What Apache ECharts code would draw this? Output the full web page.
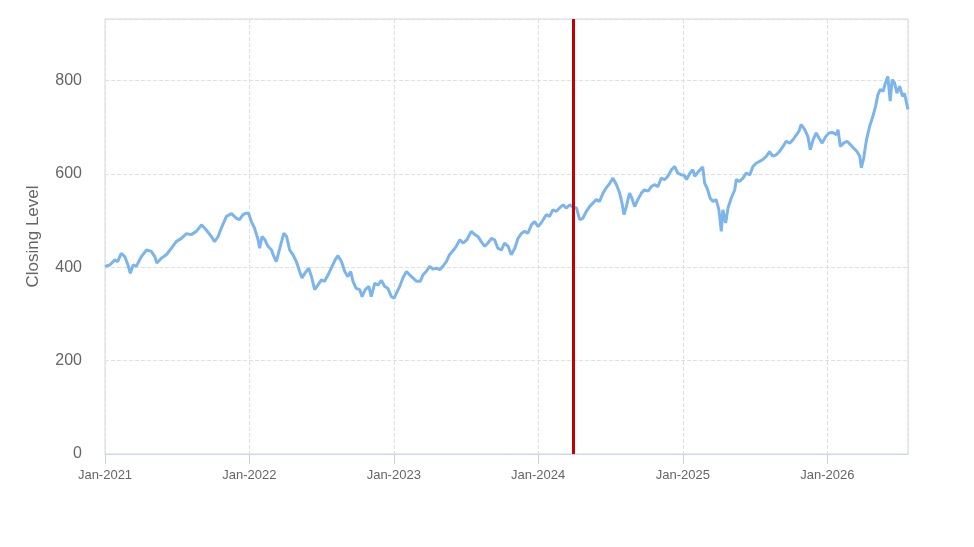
<!DOCTYPE html>
<html>
<head>
<meta charset="utf-8">
<title>Closing Level</title>
<script src="https://cdn.jsdelivr.net/npm/echarts@6/dist/echarts.min.js"></script>
<style>
  html, body { margin: 0; padding: 0; background: #fff; }
  #main { width: 974px; height: 547px; }
</style>
</head>
<body>
<div id="main"></div>
<script>
// closing level (~weekly samples)
var dates = [
  '2021-01-01','2021-01-13','2021-01-26','2021-02-02','2021-02-11','2021-02-20','2021-02-28','2021-03-06',
  '2021-03-13','2021-03-21','2021-04-03','2021-04-16','2021-04-28','2021-05-07','2021-05-12','2021-05-24',
  '2021-06-05','2021-06-18','2021-06-30','2021-07-13','2021-07-26','2021-08-07','2021-08-20','2021-09-02',
  '2021-09-14','2021-09-27','2021-10-05','2021-10-14','2021-10-22','2021-11-04','2021-11-17','2021-11-29',
  '2021-12-07','2021-12-16','2021-12-24','2021-12-30',
  '2022-01-06','2022-01-14','2022-01-23','2022-01-27','2022-02-02','2022-02-09','2022-02-17','2022-02-26',
  '2022-03-02','2022-03-10','2022-03-19','2022-03-29','2022-04-05','2022-04-13','2022-04-21','2022-04-30',
  '2022-05-08','2022-05-14','2022-05-21','2022-05-31','2022-06-07','2022-06-15','2022-06-23','2022-07-02',
  '2022-07-10','2022-07-19','2022-07-29','2022-08-06','2022-08-13','2022-08-22','2022-08-30','2022-09-07',
  '2022-09-14','2022-09-20','2022-09-28','2022-10-07','2022-10-13','2022-10-21','2022-10-30','2022-11-05',
  '2022-11-14','2022-11-22','2022-12-01','2022-12-09','2022-12-17','2022-12-26',
  '2023-01-02','2023-01-08','2023-01-16','2023-01-24','2023-02-02','2023-02-10','2023-02-19','2023-02-27',
  '2023-03-09','2023-03-16','2023-03-24','2023-04-02','2023-04-10','2023-04-19','2023-04-27','2023-05-05',
  '2023-05-14','2023-05-22','2023-06-01','2023-06-08','2023-06-17','2023-06-25','2023-07-05','2023-07-16',
  '2023-07-25','2023-08-02','2023-08-10','2023-08-19','2023-08-27','2023-09-05','2023-09-13','2023-09-21',
  '2023-09-30','2023-10-08','2023-10-17','2023-10-25','2023-11-03','2023-11-11','2023-11-20','2023-11-28',
  '2023-12-06','2023-12-15','2023-12-23',
  '2024-01-01','2024-01-11','2024-01-22','2024-01-30','2024-02-07','2024-02-16','2024-02-24','2024-03-04',
  '2024-03-12','2024-03-21','2024-03-29','2024-04-07','2024-04-15','2024-04-23','2024-05-02','2024-05-10',
  '2024-05-19','2024-05-27','2024-06-04','2024-06-13','2024-06-21','2024-06-30','2024-07-08','2024-07-17',
  '2024-07-25','2024-07-31','2024-08-05','2024-08-11','2024-08-19','2024-08-25','2024-09-01','2024-09-09',
  '2024-09-18','2024-09-26','2024-10-05','2024-10-13','2024-10-21','2024-10-30','2024-11-07','2024-11-16',
  '2024-11-24','2024-12-03','2024-12-11','2024-12-19','2024-12-28',
  '2025-01-04','2025-01-10','2025-01-19','2025-01-26','2025-01-31','2025-02-09','2025-02-20','2025-02-25',
  '2025-03-03','2025-03-11','2025-03-18','2025-03-26','2025-04-02','2025-04-08','2025-04-12','2025-04-19',
  '2025-04-25','2025-05-03','2025-05-12','2025-05-16','2025-05-24','2025-06-02','2025-06-10','2025-06-19',
  '2025-06-27','2025-07-05','2025-07-14','2025-07-22','2025-07-31','2025-08-08','2025-08-16','2025-08-25',
  '2025-09-02','2025-09-11','2025-09-19','2025-09-28','2025-10-06','2025-10-15','2025-10-21','2025-10-27',
  '2025-11-05','2025-11-13','2025-11-19','2025-11-26','2025-12-04','2025-12-11','2025-12-19','2025-12-28',
  '2026-01-05','2026-01-15','2026-01-24','2026-01-28','2026-02-03','2026-02-11','2026-02-20','2026-02-28',
  '2026-03-09','2026-03-17','2026-03-24','2026-03-28','2026-04-03','2026-04-10','2026-04-18','2026-04-26',
  '2026-05-03','2026-05-09','2026-05-15','2026-05-22','2026-05-28','2026-06-03','2026-06-09','2026-06-14',
  '2026-06-20','2026-06-26','2026-07-03','2026-07-10','2026-07-15','2026-07-24'
];
var closing = [
  402,405,416,412,430,423,405,387,
  405,402,423,437,434,423,409,420,
  427,441,455,462,472,470,477,491,
  480,466,455,466,484,509,515,505,
  502,513,516,516,
  498,484,459,441,466,459,445,437,
  427,412,441,473,466,437,427,412,
  391,377,387,398,380,352,362,373,
  370,384,402,416,425,412,391,380,
  391,370,355,352,337,352,359,337,
  366,362,372,359,355,337,
  334,345,359,377,391,384,377,370,
  370,384,391,402,396,398,395,402,
  412,427,437,445,459,452,459,477,
  470,466,455,445,452,462,459,441,
  437,452,445,427,441,462,473,477,
  473,491,498,
  487,498,513,509,523,520,527,534,
  527,534,529,527,502,505,520,530,
  538,545,541,559,570,580,591,577,
  559,538,513,530,559,548,530,545,
  559,566,563,573,577,573,591,588,
  595,609,616,602,598,
  598,588,602,609,595,605,615,580,
  570,548,541,545,523,477,523,495,
  527,548,566,588,584,591,602,598,
  616,623,627,631,638,648,638,641,
  648,659,670,666,673,684,691,706,
  695,680,652,673,688,677,666,680,
  688,689,684,695,659,666,670,663,
  655,648,638,613,634,673,702,723,
  745,770,781,777,795,809,756,802,
  795,773,788,766,773,738
];
var markerDate = '2024-03-29';

var yMax = 932;

var myChart = echarts.init(document.getElementById('main'));
var font = '"Liberation Sans", Arial, sans-serif';

var option = {
  animation: false,
  grid: {
    left: 105,
    right: 66,
    top: 19,
    bottom: 93,
    show: true,
    borderColor: '#d3d8e0',
    borderWidth: 1,
    containLabel: false
  },
  xAxis: {
    type: 'time',
    min: '2021-01-01',
    max: '2026-07-24',
    minInterval: 365 * 24 * 3600 * 1000,
    maxInterval: 366 * 24 * 3600 * 1000,
    axisLine: { show: true, lineStyle: { color: '#ccd6eb', width: 1 } },
    axisTick: { show: true, length: 10, lineStyle: { color: '#c4d0e6', width: 1 } },
    axisLabel: {
      color: '#666666',
      fontSize: 13,
      fontFamily: font,
      margin: 15,
      hideOverlap: false,
      formatter: function (v) {
        var d = new Date(v);
        if (d.getMonth() !== 0) return '';
        return 'Jan-' + d.getFullYear();
      }
    },
    splitLine: { show: true, lineStyle: { color: '#e0e0e0', type: 'dashed' } }
  },
  yAxis: {
    type: 'value',
    min: 0,
    max: yMax,
    interval: 200,
    name: 'Closing Level',
    nameLocation: 'middle',
    nameGap: 63,
    nameTextStyle: { color: '#666666', fontSize: 17, fontFamily: font },
    axisLine: { show: false },
    axisTick: { show: false },
    axisLabel: {
      color: '#666666',
      fontSize: 16,
      fontFamily: font,
      margin: 23,
      showMaxLabel: false
    },
    splitLine: { show: true, lineStyle: { color: '#e0e0e0', type: 'dashed' } }
  },
  series: [
    {
      name: 'Closing Level',
      type: 'line',
      data: dates.map(function (d, i) { return [d, closing[i]]; }),
      showSymbol: false,
      symbol: 'none',
      lineStyle: { color: '#7cb5ec', width: 3 },
      markLine: {
        silent: true,
        symbol: ['none', 'none'],
        label: { show: false },
        lineStyle: { color: '#c40000', width: 3, type: 'solid' },
        data: [{ xAxis: markerDate }]
      }
    }
  ]
};

window.onresize = myChart.resize;
myChart.setOption(option);
</script>
</body>
</html>
